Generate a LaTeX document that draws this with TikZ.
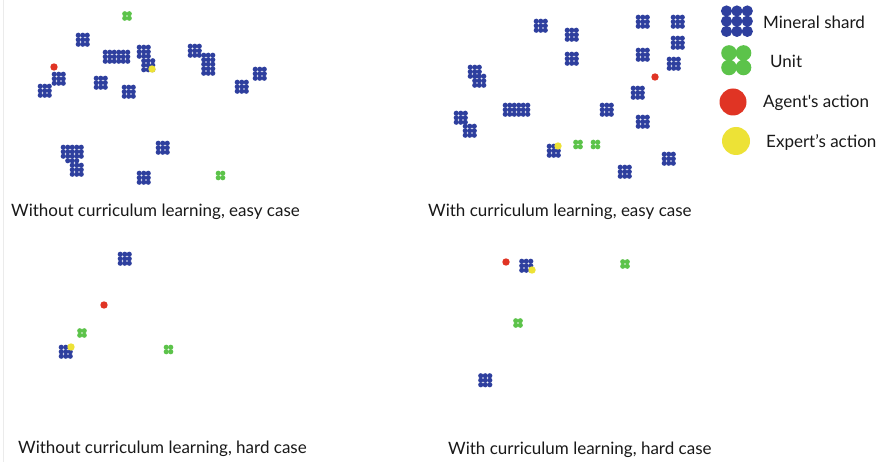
\documentclass[tikz,border=0pt]{standalone}
\usepackage{fontspec}
\setmainfont{Lato}[Ligatures=TeXOff]
\definecolor{shardblue}{HTML}{2E3F9E}
\definecolor{unitgreen}{HTML}{5CC34A}
\definecolor{agentred}{HTML}{E03424}
\definecolor{expertyellow}{HTML}{EDE236}
\tikzset{
  shardfill/.style={fill=shardblue},
  unitfill/.style={fill=unitgreen},
  agentdot/.style={fill=agentred},
  expertdot/.style={fill=expertyellow},
  caption/.style={anchor=base west, inner sep=0pt, font=\fontsize{17}{19}\selectfont, text=black!90},
}
% grid of dots: #1 style, #2 #3 top-left corner, #4 columns, #5 rows
\newcommand{\dotgrid}[5]{%
  \foreach \gi in {1,...,#4}{\foreach \gj in {1,...,#5}{%
    \fill[#1] ({#2+(\gi-0.5)*4.5},{#3+(\gj-0.5)*4.5}) circle[radius=2.6];}}}
\newcommand{\shardblock}[4]{\dotgrid{shardfill}{#1}{#2}{#3}{#4}}
\newcommand{\unitblock}[2]{\dotgrid{unitfill}{#1}{#2}{2}{2}}
\newcommand{\agentat}[2]{\fill[agentdot] (#1,#2) circle[radius=3.7];}
\newcommand{\expertat}[2]{\fill[expertdot] (#1,#2) circle[radius=3.7];}
\begin{document}
\begin{tikzpicture}[x=1pt,y=-1pt]
\useasboundingbox (0,0) rectangle (880,462);
\fill[white] (0,0) rectangle (880,462);
\draw[black!8, line width=1pt] (3.5,0) -- (3.5,462);

% ---- without curriculum learning, easy case ----
\unitblock{122.5}{11.5}
\shardblock{76}{33}{3}{3}
\shardblock{103}{50}{6}{3}
\shardblock{137}{45}{3}{3}
\shardblock{141.5}{58.5}{3}{3}
\shardblock{52}{72}{3}{3}
\shardblock{38}{84}{3}{3}
\shardblock{94}{76}{3}{3}
\shardblock{122}{85}{3}{3}
\shardblock{188}{44}{3}{3}
\shardblock{201.5}{53}{3}{5}
\shardblock{253}{67}{3}{3}
\shardblock{235}{80}{3}{3}
\shardblock{61}{145}{5}{3}
\shardblock{65.5}{158.5}{3}{1}
\shardblock{70}{163}{3}{3}
\shardblock{156}{141}{3}{3}
\shardblock{137}{171}{3}{3}
\unitblock{216}{171}
\agentat{54}{67}
\expertat{152}{69}
\node[caption] (capA) at (11,217) {Without curriculum learning, easy case};

% ---- with curriculum learning, easy case ----
\shardblock{534}{19}{3}{3}
\shardblock{565}{28}{3}{3}
\shardblock{565}{52}{3}{3}
\shardblock{636}{15}{3}{3}
\shardblock{671}{15}{3}{3}
\shardblock{671}{36}{3}{3}
\shardblock{636}{48}{3}{3}
\shardblock{667}{57}{3}{3}
\shardblock{468}{65}{3}{3}
\shardblock{472.5}{74}{3}{3}
\shardblock{631}{86}{3}{3}
\shardblock{503}{103}{6}{3}
\shardblock{600}{103}{3}{3}
\shardblock{636}{115}{3}{3}
\shardblock{454}{111}{3}{3}
\shardblock{463}{124}{3}{3}
\shardblock{547}{144}{3}{3}
\shardblock{662}{152}{3}{3}
\shardblock{618}{165}{3}{3}
\unitblock{573.5}{140}
\unitblock{591}{140}
\agentat{655}{77}
\expertat{558}{146}
\node[caption] (capB) at (428,217) {With curriculum learning, easy case};

% ---- without curriculum learning, hard case ----
\shardblock{118}{252}{3}{3}
\shardblock{59}{345}{3}{3}
\unitblock{77.5}{328.5}
\unitblock{164}{345}
\agentat{104}{305}
\expertat{71}{347}
\node[caption] (capC) at (18,453) {Without curriculum learning, hard case};

% ---- with curriculum learning, hard case ----
\shardblock{519.5}{259}{3}{3}
\shardblock{478.5}{373.5}{3}{3}
\unitblock{620.5}{259.5}
\unitblock{513.5}{318.5}
\agentat{506}{262}
\expertat{532}{270}
\node[caption] (capD) at (448,454) {With curriculum learning, hard case};

% ---- legend ----
\foreach \li in {0,1,2}{\foreach \lj in {0,1,2}{%
  \fill[shardfill] ({726.5+\li*10.4},{11+\lj*10.2}) circle[radius=5.6];}}
\foreach \li in {0,1}{\foreach \lj in {0,1}{%
  \fill[unitfill] ({729+\li*14.5},{53+\lj*14.5}) circle[radius=7.8];}}
\fill[agentdot] (733,102) circle[radius=13.5];
\fill[expertdot] (736,141) circle[radius=14];
\node[caption] (legShard) at (763,29) {Mineral shard};
\node[caption] (legUnit) at (770,68) {Unit};
\node[caption] (legAgent) at (763,108) {Agent's action};
\node[caption] (legExpert) at (766,148) {Expert’s action};
\end{tikzpicture}
\end{document}
